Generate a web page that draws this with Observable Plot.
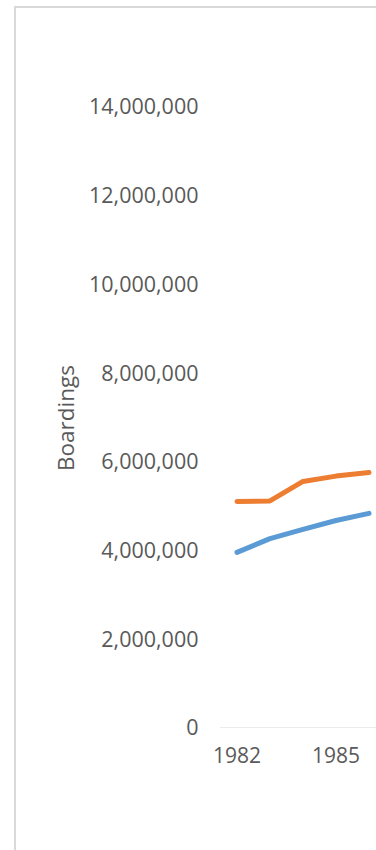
<!DOCTYPE html>
<html>
<head>
<meta charset="utf-8">
<script src="https://cdn.jsdelivr.net/npm/d3@7"></script>
<script src="https://cdn.jsdelivr.net/npm/@observablehq/plot@0.6"></script>
<style>
  html, body { margin: 0; padding: 0; background: #fff; width: 376px; height: 850px; overflow: hidden; }
  #frame { position: absolute; left: 14px; top: 6px; width: 600px; height: 1000px; border: 2px solid #d9d9d9; box-sizing: border-box; }
  #chart { position: absolute; left: 0; top: 0; }
</style>
</head>
<body>
<div id="frame"></div>
<div id="chart"></div>
<script>
const years = [1982, 1983, 1984, 1985, 1986];
const seriesNames = ["Series A", "Series B"];
const orangeValues = [5120000, 5130000, 5570000, 5690000, 5770000];
const blueValues = [3970000, 4280000, 4490000, 4690000, 4850000];
const yTicks = [0, 2000000, 4000000, 6000000, 8000000, 10000000, 12000000, 14000000];
const xTicks = [1982, 1985];
const yLabel = "Boardings";

const data = [];
years.forEach((yr, i) => {
  data.push({year: yr, value: blueValues[i], series: seriesNames[0]});
  data.push({year: yr, value: orangeValues[i], series: seriesNames[1]});
});

const font = "'Open Sans', sans-serif";
const textColor = "#595959";

const chart = Plot.plot({
  width: 376,
  height: 850,
  marginLeft: 220,
  marginRight: 0,
  marginTop: 107,
  marginBottom: 122,
  style: {fontFamily: font, fontSize: "21px", color: textColor, background: "transparent"},
  x: {type: "linear", domain: [1981.5, 1986.5], range: [220, 385], axis: null},
  y: {domain: [0, 14000000], axis: null},
  color: {domain: seriesNames, range: ["#5B9BD5", "#ED7D31"]},
  marks: [
    Plot.ruleY([0], {x1: 1981.5, x2: 1990, stroke: "#d9d9d9", strokeWidth: 2, clip: true}),
    Plot.axisY({ticks: yTicks, tickSize: 0, tickPadding: 22, tickFormat: d3.format(","), fill: textColor, fontSize: 21.5, label: null}),
    Plot.axisX({ticks: xTicks, tickSize: 0, tickPadding: 20, tickFormat: d => String(d), fill: textColor, fontSize: 21, label: null}),
    Plot.text([yLabel], {frameAnchor: "left", textAnchor: "middle", dx: -154, rotate: -90, fill: textColor, fontSize: 22.5}),
    Plot.line(data, {x: "year", y: "value", z: "series", stroke: "series", strokeWidth: 5, strokeLinecap: "round", strokeLinejoin: "round", clip: true})
  ]
});
document.getElementById("chart").appendChild(chart);
</script>
</body>
</html>
